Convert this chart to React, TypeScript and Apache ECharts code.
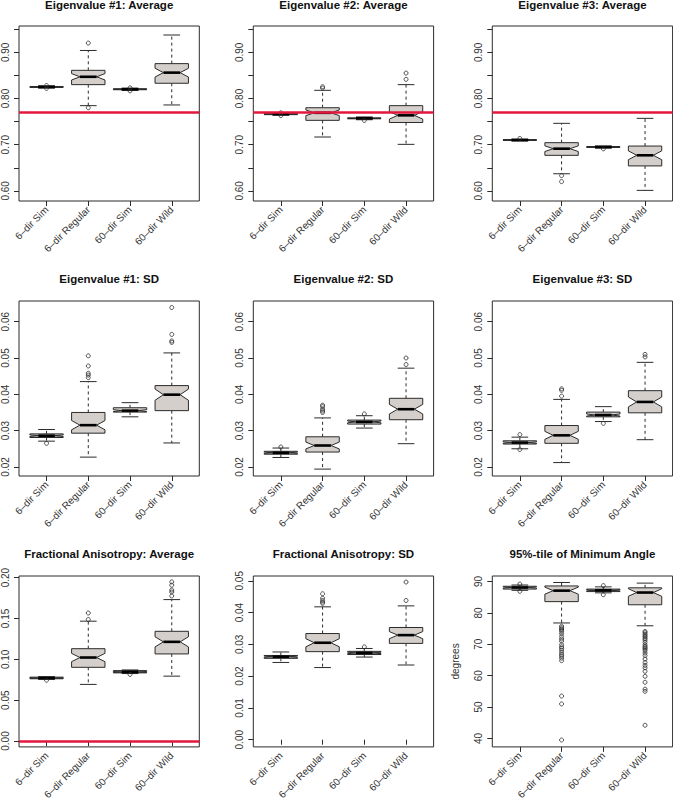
import React, { useEffect, useRef } from 'react';
import * as echarts from 'echarts';

const categories = ['6–dir Sim', '6–dir Regular', '60–dir Sim', '60–dir Wild'];

const titles = [
  'Eigenvalue #1: Average',
  'Eigenvalue #2: Average',
  'Eigenvalue #3: Average',
  'Eigenvalue #1: SD',
  'Eigenvalue #2: SD',
  'Eigenvalue #3: SD',
  'Fractional Anisotropy: Average',
  'Fractional Anisotropy: SD',
  '95%-tile of Minimum Angle',
];

// each box: [lower whisker, Q1, median, Q3, upper whisker]
const ev1AvgBoxes = [
  [0.8225, 0.824, 0.825, 0.826, 0.8275],
  [0.7845, 0.83, 0.847, 0.861, 0.904],
  [0.8175, 0.819, 0.82, 0.821, 0.8225],
  [0.786, 0.833, 0.856, 0.8755, 0.9375],
];
const ev1AvgOutliers = [[0.822, 0.828], [0.92, 0.78], [0.8165, 0.823], []];

const ev2AvgBoxes = [
  [0.764, 0.765, 0.766, 0.767, 0.768],
  [0.7166, 0.7527, 0.769, 0.78, 0.8177],
  [0.754, 0.756, 0.757, 0.758, 0.76],
  [0.7007, 0.748, 0.7635, 0.7845, 0.83],
];
const ev2AvgOutliers = [[0.763, 0.769], [0.8225, 0.8255], [0.7525], [0.8415, 0.855]];

const ev3AvgBoxes = [
  [0.708, 0.709, 0.71, 0.711, 0.712],
  [0.637, 0.6769, 0.6913, 0.7043, 0.7462],
  [0.6925, 0.694, 0.695, 0.696, 0.697],
  [0.601, 0.654, 0.677, 0.697, 0.757],
];
const ev3AvgOutliers = [[0.7135], [0.633, 0.62], [0.691], []];

const ev1SdBoxes = [
  [0.0271, 0.0281, 0.0286, 0.0291, 0.0303],
  [0.0227, 0.0293, 0.0315, 0.035, 0.0435],
  [0.0338, 0.0351, 0.0355, 0.0363, 0.0377],
  [0.0266, 0.0355, 0.0399, 0.0424, 0.0514],
];
const ev1SdOutliers = [
  [0.0265],
  [0.0446, 0.0453, 0.0458, 0.0478, 0.0506],
  [],
  [0.0543, 0.0547, 0.0565, 0.0639],
];

const ev2SdBoxes = [
  [0.0226, 0.0235, 0.0239, 0.0243, 0.0252],
  [0.0194, 0.0241, 0.0259, 0.0283, 0.0335],
  [0.0307, 0.0318, 0.0324, 0.0329, 0.0341],
  [0.0264, 0.033, 0.0359, 0.0389, 0.0472],
];
const ev2SdOutliers = [
  [0.0255],
  [0.035, 0.0354, 0.0359, 0.0366, 0.037],
  [0.0346],
  [0.0482, 0.05],
];

const ev3SdBoxes = [
  [0.025, 0.0263, 0.0267, 0.0272, 0.0282],
  [0.0212, 0.0265, 0.0287, 0.0314, 0.0386],
  [0.0325, 0.0338, 0.0343, 0.0351, 0.0366],
  [0.0275, 0.0349, 0.0379, 0.041, 0.0488],
];
const ev3SdOutliers = [
  [0.0289, 0.0248],
  [0.0395, 0.0411, 0.0415],
  [0.032],
  [0.0503, 0.051],
];

const faAvgBoxes = [
  [0.0755, 0.0762, 0.077, 0.0782, 0.0788],
  [0.0693, 0.0902, 0.1022, 0.113, 0.1467],
  [0.0826, 0.0834, 0.0845, 0.0862, 0.087],
  [0.0794, 0.1066, 0.1214, 0.1343, 0.1731],
];
const faAvgOutliers = [
  [0.0745],
  [0.1487, 0.1567],
  [0.0815],
  [0.1776, 0.1824, 0.1848, 0.1908, 0.1948],
];

const faSdBoxes = [
  [0.0243, 0.0256, 0.0261, 0.0265, 0.0276],
  [0.0227, 0.0277, 0.0305, 0.0334, 0.0418],
  [0.026, 0.0268, 0.0273, 0.0278, 0.0287],
  [0.0235, 0.0303, 0.0329, 0.0353, 0.0421],
];
const faSdOutliers = [
  [],
  [0.0429, 0.0433, 0.0438, 0.0445, 0.0459],
  [0.0292],
  [0.0438, 0.0496],
];

const angleBoxes = [
  [87.2, 87.6, 88.1, 88.5, 88.9],
  [76.8, 83.6, 87.1, 88.6, 89.7],
  [86.4, 86.8, 87.2, 87.6, 88.3],
  [75.9, 82.6, 86.5, 88.0, 89.5],
];
const angleOutliers = [
  [89.2, 86.9],
  [75.8, 75.3, 74.9, 74.5, 74.1, 73.4, 72.5, 71.7, 71.0, 69.9, 69.2, 68.7, 68.1, 67.4, 66.8, 66.3, 65.6, 64.8, 53.5, 51.0, 39.5],
  [88.7, 85.8],
  [74.1, 73.7, 73.2, 72.7, 72.3, 71.8, 71.3, 70.6, 69.8, 69.3, 68.9, 68.5, 68.0, 67.2, 66.4, 65.3, 64.2, 63.3, 62.5, 61.4, 59.8, 57.9, 55.7, 55.0, 44.2],
];

// reference (red) lines
const evAvgReference = 0.766;
const faAvgReference = 0.0;

// tick values
const evAvgTicks = [0.6, 0.65, 0.7, 0.75, 0.8, 0.85, 0.9, 0.95];
const evAvgLabels = [0.6, 0.7, 0.8, 0.9];
const evSdTicks = [0.02, 0.03, 0.04, 0.05, 0.06];
const faAvgTicks = [0.0, 0.05, 0.1, 0.15, 0.2];
const faSdTicks = [0.0, 0.01, 0.02, 0.03, 0.04, 0.05];
const angleTicks = [40, 50, 60, 70, 80, 90];

const allBoxes = [ev1AvgBoxes, ev2AvgBoxes, ev3AvgBoxes, ev1SdBoxes, ev2SdBoxes, ev3SdBoxes, faAvgBoxes, faSdBoxes, angleBoxes];
const allOutliers = [ev1AvgOutliers, ev2AvgOutliers, ev3AvgOutliers, ev1SdOutliers, ev2SdOutliers, ev3SdOutliers, faAvgOutliers, faSdOutliers, angleOutliers];

// axis setup per panel (ranges, ticks)
const panelAxes = [
  { min: 0.578, max: 0.957, ticks: evAvgTicks, labels: evAvgLabels, dec: 2, ref: evAvgReference },
  { min: 0.578, max: 0.957, ticks: evAvgTicks, labels: evAvgLabels, dec: 2, ref: evAvgReference },
  { min: 0.578, max: 0.957, ticks: evAvgTicks, labels: evAvgLabels, dec: 2, ref: evAvgReference },
  { min: 0.0175, max: 0.0657, ticks: evSdTicks, labels: evSdTicks, dec: 2, ref: null },
  { min: 0.0175, max: 0.0657, ticks: evSdTicks, labels: evSdTicks, dec: 2, ref: null },
  { min: 0.0175, max: 0.0657, ticks: evSdTicks, labels: evSdTicks, dec: 2, ref: null },
  { min: -0.0072, max: 0.202, ticks: faAvgTicks, labels: faAvgTicks, dec: 2, ref: faAvgReference },
  { min: -0.00226, max: 0.0515, ticks: faSdTicks, labels: faSdTicks, dec: 2, ref: null },
  { min: 37.3, max: 91.77, ticks: angleTicks, labels: angleTicks, dec: 0, ref: null, name: 'degrees' },
];

const COL_LEFT = [19, 253.3, 492.3];
const ROW_TOP = [26, 301, 576];
const PANEL_W = 180.3;
const PANEL_H = 175;
const TITLE_Y = [5, 279, 554];
const BOX_WIDTH = 0.8;
const NOTCH_K = 1.58 / Math.sqrt(50);
const FONT = '"Liberation Sans", Arial, Helvetica, sans-serif';
const INK = '#2b2b2b';

function renderBox(params: any, api: any) {
  const x = api.value(0);
  const lo = api.value(1);
  const q1 = api.value(2);
  const med = api.value(3);
  const q3 = api.value(4);
  const hi = api.value(5);
  const notch = NOTCH_K * (q3 - q1);
  const pMed = api.coord([x, med]);
  const cx = pMed[0];
  const yMed = pMed[1];
  const yLo = api.coord([x, lo])[1];
  const yHi = api.coord([x, hi])[1];
  const yQ1 = api.coord([x, q1])[1];
  const yQ3 = api.coord([x, q3])[1];
  const yN1 = api.coord([x, med - notch])[1];
  const yN2 = api.coord([x, med + notch])[1];
  const half = api.size([BOX_WIDTH, 0])[0] / 2;
  const q = half / 2;
  const dashed = { stroke: INK, lineWidth: 1, lineDash: [3, 3] };
  const solid = { stroke: INK, lineWidth: 1 };
  return {
    type: 'group',
    children: [
      { type: 'line', shape: { x1: cx, y1: yQ3, x2: cx, y2: yHi }, style: dashed },
      { type: 'line', shape: { x1: cx, y1: yQ1, x2: cx, y2: yLo }, style: dashed },
      { type: 'line', shape: { x1: cx - q, y1: yHi, x2: cx + q, y2: yHi }, style: solid },
      { type: 'line', shape: { x1: cx - q, y1: yLo, x2: cx + q, y2: yLo }, style: solid },
      {
        type: 'polygon',
        shape: {
          points: [
            [cx - half, yQ1],
            [cx - half, yN1],
            [cx - q, yMed],
            [cx - half, yN2],
            [cx - half, yQ3],
            [cx + half, yQ3],
            [cx + half, yN2],
            [cx + q, yMed],
            [cx + half, yN1],
            [cx + half, yQ1],
          ],
        },
        style: { fill: '#d4cfcb', stroke: INK, lineWidth: 1 },
      },
      { type: 'line', shape: { x1: cx - q, y1: yMed, x2: cx + q, y2: yMed }, style: { stroke: '#000', lineWidth: 2.6 } },
    ],
  };
}

export default function App() {
  const ref = useRef<HTMLDivElement>(null);
  useEffect(() => {
    if (!ref.current) return;
    const chart = echarts.init(ref.current, null, { renderer: 'svg' });
    const grids: any[] = [];
    const xAxes: any[] = [];
    const yAxes: any[] = [];
    const series: any[] = [];
    const graphics: any[] = [];
    for (let p = 0; p < 9; p++) {
      const col = p % 3;
      const row = Math.floor(p / 3);
      const ax = panelAxes[p];
      grids.push({
        left: COL_LEFT[col],
        top: ROW_TOP[row],
        width: PANEL_W,
        height: PANEL_H,
        show: true,
        borderColor: INK,
        borderWidth: 1,
        backgroundColor: 'transparent',
        containLabel: false,
      });
      xAxes.push({
        type: 'value',
        gridIndex: p,
        min: 0.34,
        max: 4.66,
        splitLine: { show: false },
        axisLine: { show: false },
        axisTick: { show: true, customValues: [1, 2, 3, 4], length: 5, lineStyle: { color: INK } },
        axisLabel: {
          customValues: [1, 2, 3, 4],
          formatter: (v: number) => categories[Math.round(v) - 1],
          rotate: 45,
          margin: 7,
          fontSize: 10,
          fontFamily: FONT,
          color: '#333',
        },
      });
      yAxes.push({
        type: 'value',
        gridIndex: p,
        min: ax.min,
        max: ax.max,
        splitLine: { show: false },
        axisLine: { show: false },
        axisTick: { show: true, customValues: ax.ticks, length: 5, lineStyle: { color: INK } },
        axisLabel: {
          customValues: ax.labels,
          formatter: (v: number) => v.toFixed(ax.dec),
          rotate: 90,
          margin: 9,
          fontSize: 10,
          fontFamily: FONT,
          color: '#333',
        },
        name: ax.name || '',
        nameLocation: 'middle',
        nameGap: 32,
        nameRotate: 90,
        nameTextStyle: { fontSize: 10, fontFamily: FONT, color: '#333', fontWeight: 'normal' },
      });
      const boxSeries: any = {
        type: 'custom',
        xAxisIndex: p,
        yAxisIndex: p,
        renderItem: renderBox,
        encode: { x: 0, y: [1, 2, 3, 4, 5] },
        data: allBoxes[p].map((b, i) => [i + 1, ...b]),
        clip: false,
        z: 2,
      };
      if (ax.ref !== null) {
        boxSeries.markLine = {
          silent: true,
          symbol: ['none', 'none'],
          label: { show: false },
          lineStyle: { color: '#e3173e', width: 2.5, type: 'solid' },
          data: [{ yAxis: ax.ref }],
          z: 5,
        };
      }
      series.push(boxSeries);
      const outs: number[][] = [];
      allOutliers[p].forEach((list, i) => list.forEach((v) => outs.push([i + 1, v])));
      series.push({
        type: 'scatter',
        xAxisIndex: p,
        yAxisIndex: p,
        data: outs,
        symbol: 'circle',
        symbolSize: 4,
        itemStyle: { color: 'rgba(0,0,0,0)', borderColor: INK, borderWidth: 1 },
        z: 3,
      });
      graphics.push({
        type: 'text',
        x: COL_LEFT[col] + PANEL_W / 2,
        y: TITLE_Y[row],
        style: {
          text: titles[p],
          textAlign: 'center',
          textVerticalAlign: 'middle',
          font: `bold 11.5px ${FONT}`,
          fill: '#111',
        },
      });
    }
    chart.setOption({
      animation: false,
      backgroundColor: '#ffffff',
      grid: grids,
      xAxis: xAxes,
      yAxis: yAxes,
      series,
      graphic: graphics,
    });
    return () => chart.dispose();
  }, []);
  return (
    <div
      ref={ref}
      style={{ position: 'absolute', left: 0, top: 0, width: 673, height: 802 }}
    />
  );
}
